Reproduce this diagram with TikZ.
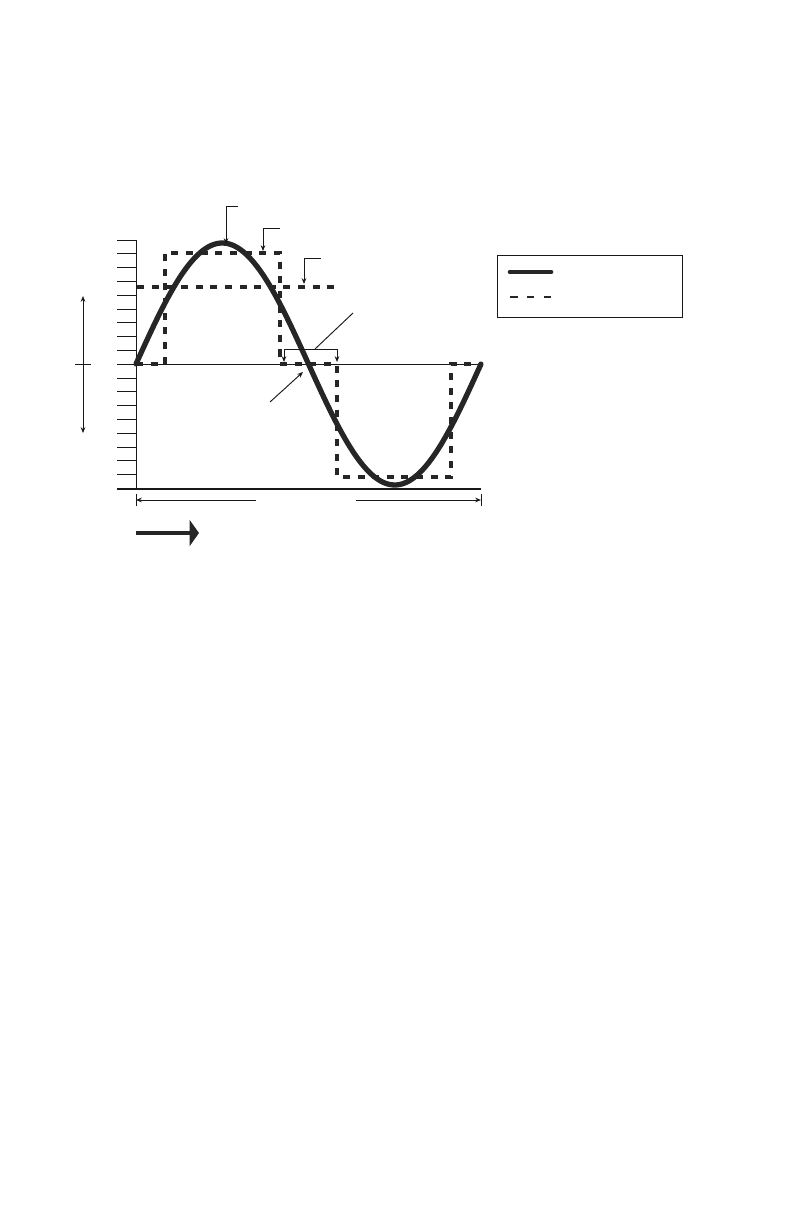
\documentclass[tikz,border=0pt]{standalone}
\usepackage{tikz}
\usetikzlibrary{arrows.meta}

\begin{document}
\begin{tikzpicture}[
  x=0.03cm, y=-0.03cm,
  >={Stealth[length=5pt,width=4pt]},
  thin line/.style={line width=0.8pt, black!90},
  wave/.style={line width=4.5pt, black!85, line cap=round},
  square/.style={line width=2.8pt, black!85, dash pattern=on 6pt off 6.5pt},
  callout/.style={thin line, ->},
  bigarrow/.style={line width=4.2pt, black!85,
                   -{Triangle[length=8pt,width=22pt]}}
]
\useasboundingbox (0,0) rectangle (793,1225);

% Axes
\coordinate (origin) at (136,364);
\coordinate (top)    at (136,240);
\coordinate (bottom) at (136,489);
\coordinate (xend)   at (481,364);
\coordinate (bend)   at (481,489);
\draw[thin line] (top) -- (bottom);
\foreach \i in {0,...,18}
  \draw[thin line] (117,{240+\i*13.8}) -- (136,{240+\i*13.8});
\draw[thin line] (origin) -- (xend);
\draw[line width=1.8pt, black!90] (117,489) -- (bend);

% Square wave
\draw[square] (origin) -- (165,364) -- (165,253) -- (280,253) -- (280,364)
  -- (337,364) -- (337,477) -- (451,477) -- (451,364) -- (xend);
\draw[square] (137,287) -- (337,287);

% Sine wave
\draw[wave] plot[domain=0:360, samples=120]
  ({136+\x*0.95833}, {364-121*sin(\x)});

% Callouts
\coordinate (peak)   at (226,244);
\coordinate (sqtop)  at (263,251);
\coordinate (level)  at (304,284);
\draw[callout] (238,206) -- (226,206) -- (peak);
\draw[callout] (280,228) -- (263,228) -- (sqtop);
\draw[callout] (321,258) -- (304,258) -- (level);
\coordinate (gapl) at (284,362);
\coordinate (gapr) at (337,362);
\draw[callout] (284,349) -- (gapl);
\draw[callout] (337,349) -- (gapr);
\draw[thin line] (284,349) -- (337,349);
\draw[thin line] (315,349) -- (353,313);
\coordinate (cross) at (303,372);
\draw[callout] (270,402) -- (cross);

% Amplitude arrow
\coordinate (aup)   at (83,296);
\coordinate (adown) at (83,433);
\draw[callout] (83,364) -- (aup);
\draw[callout] (83,364) -- (adown);
\draw[thin line] (75,364) -- (91,364);

% Period arrow
\coordinate (pleft)  at (136,500);
\coordinate (pright) at (481,500);
\draw[callout] (256,500) -- (pleft);
\draw[callout] (356,500) -- (pright);
\draw[thin line] (136,494) -- (136,506);
\draw[thin line] (481,494) -- (481,506);

% Direction arrow
\coordinate (dstart) at (136,533);
\coordinate (dend)   at (199,533);
\draw[bigarrow] (dstart) -- (dend);

% Legend
\draw[thin line] (497,255) rectangle (682,317);
\draw[line width=4pt, black!85, line cap=round] (510,272) -- (551,272);
\draw[line width=2.2pt, black!85, dash pattern=on 6.5pt off 7.8pt] (510,297) -- (552,297);

\end{tikzpicture}
\end{document}
